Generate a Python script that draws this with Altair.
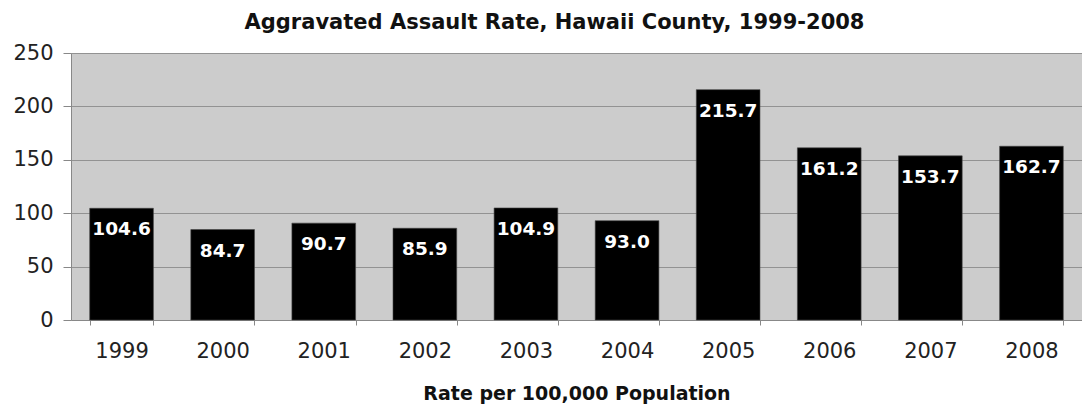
import altair as alt
import pandas as pd

years = ["1999", "2000", "2001", "2002", "2003", "2004", "2005", "2006", "2007", "2008"]
rates = [104.6, 84.7, 90.7, 85.9, 104.9, 93.0, 215.7, 161.2, 153.7, 162.7]
y_ticks = [0, 50, 100, 150, 200, 250]

df = pd.DataFrame({"year": years, "rate": rates})

x_enc = alt.X(
    "year:N",
    sort=None,
    scale=alt.Scale(paddingInner=0.37, paddingOuter=0.185),
    axis=alt.Axis(
        title="Rate per 100,000 Population",
        labelAngle=0,
        tickBand="extent",
        tickSize=5,
        labelPadding=15,
        titlePadding=23,
        labelFontSize=21,
        titleFontSize=19,
        titleFontWeight="bold",
    ),
)

bars = alt.Chart(df).mark_bar(color="black", stroke="#444444", strokeWidth=0.6).encode(
    x=x_enc,
    y=alt.Y(
        "rate:Q",
        scale=alt.Scale(domain=[0, 250], nice=False),
        axis=alt.Axis(
            values=y_ticks,
            title=None,
            tickSize=8,
            labelPadding=10,
            labelFontSize=21,
            grid=True,
        ),
    ),
)

labels = alt.Chart(df).mark_text(
    color="white", font="DejaVu Sans", fontWeight="bold", fontSize=18.5,
    baseline="middle", dy=21,
).encode(
    x=alt.X("year:N", sort=None),
    y=alt.Y("rate:Q"),
    text=alt.Text("rate:Q", format=".1f"),
)

chart = (bars + labels).properties(
    width=1011,
    height=267,
    title=alt.TitleParams(
        "Aggravated Assault Rate, Hawaii County, 1999-2008",
        font="DejaVu Sans",
        fontSize=21,
        fontWeight="bold",
        color="#111111",
        anchor="middle",
        dx=-22,
        offset=9,
    ),
    autosize=alt.AutoSizeParams(type="none"),
    padding={"left": 63, "top": 45, "right": 0, "bottom": 87},
).configure_view(
    fill="#cccccc", stroke=None
).configure_axis(
    labelFont="DejaVu Sans",
    titleFont="DejaVu Sans",
    labelColor="#222222",
    titleColor="#111111",
    domainColor="#888888",
    tickColor="#888888",
    gridColor="#929292",
    gridWidth=1,
)

chart.save("out.html", embed_options={"renderer": "svg", "actions": False})
